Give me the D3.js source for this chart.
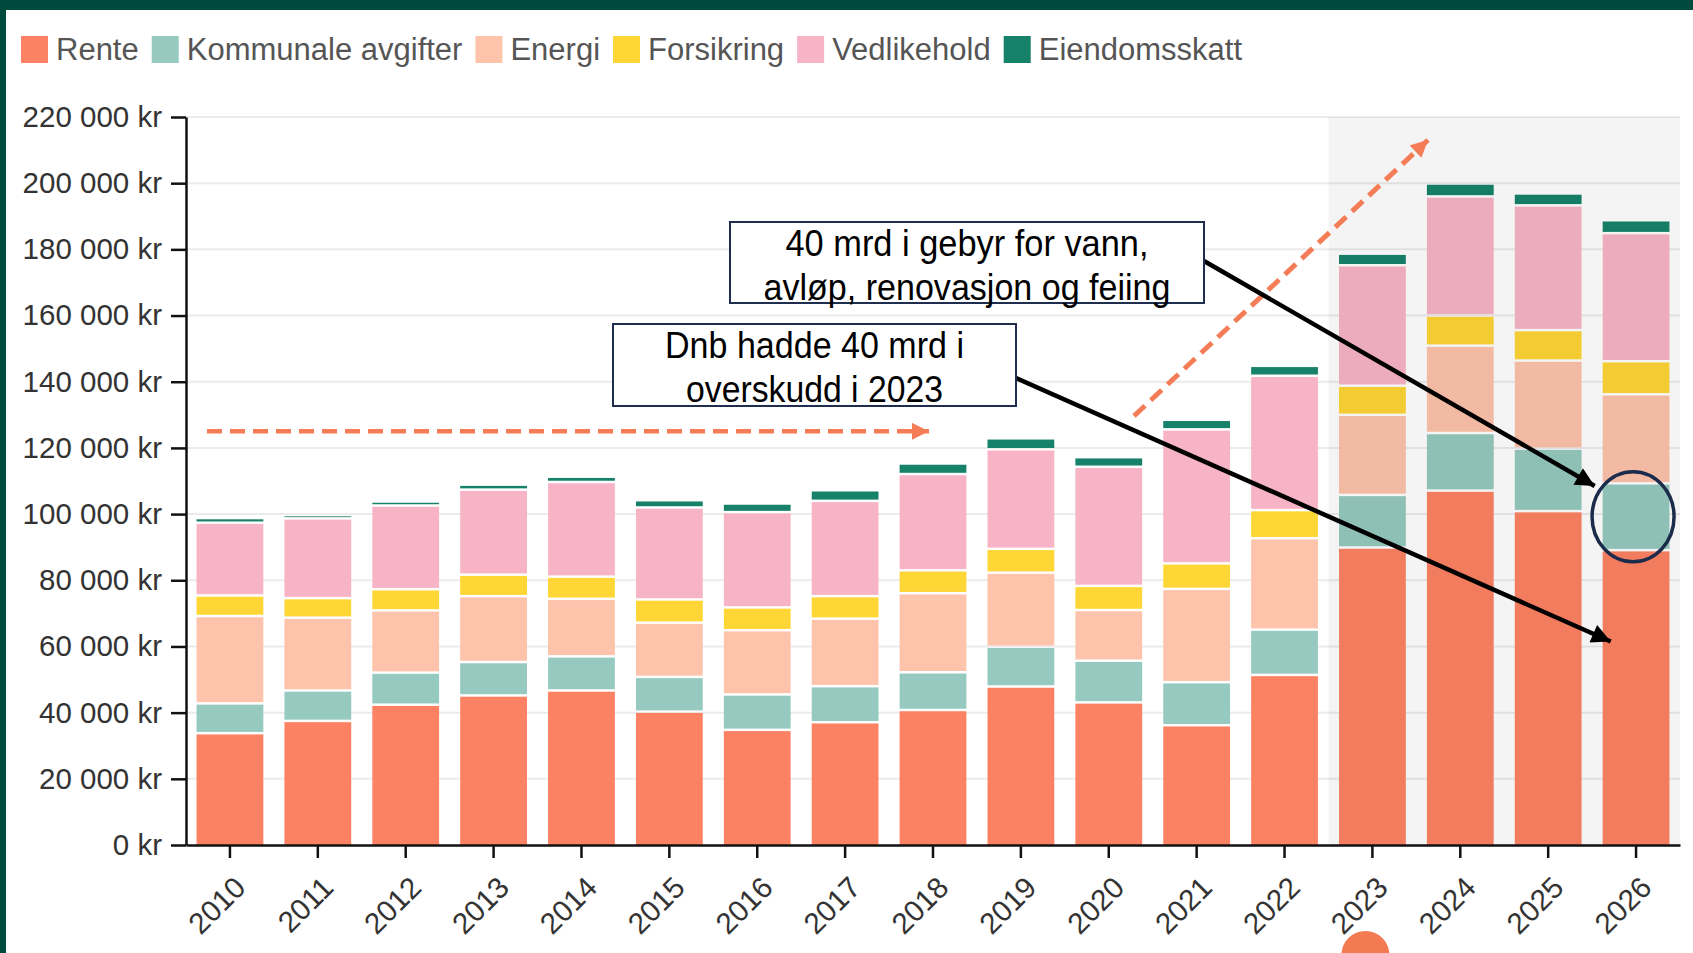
<!DOCTYPE html>
<html>
<head>
<meta charset="utf-8">
<script src="https://cdn.jsdelivr.net/npm/d3@7"></script>
<style>
  html, body { margin: 0; padding: 0; background: #fff; }
  svg { display: block; }
</style>
</head>
<body>
<div id="chart"></div>
<script>
// data (kr per year)
var years = ["2010","2011","2012","2013","2014","2015","2016","2017","2018",
             "2019","2020","2021","2022","2023","2024","2025","2026"];
var rente =         [33800, 37500, 42400, 45200, 46700, 40300, 34800, 37100, 40800, 47900, 43100, 36200, 51400, 89900, 107100, 100900, 89100];
var kommunale =     [9000, 9200, 9700, 10100, 10300, 10500, 10700, 10900, 11400, 12000, 12600, 13000, 13700, 15900, 17400, 18900, 20200];
var energi =        [26400, 22000, 18800, 19900, 17400, 16400, 19400, 20400, 23900, 22400, 15300, 28200, 27600, 24200, 26400, 26600, 26900];
var forsikring =    [6200, 5900, 6400, 6500, 6700, 7000, 6900, 6800, 6900, 7200, 7300, 7700, 8500, 8800, 9100, 9200, 10000];
var vedlikehold =   [22000, 24100, 25300, 25700, 28600, 27800, 28800, 28800, 29100, 30100, 36000, 40500, 40600, 36400, 36000, 37700, 38700];
var eiendomsskatt = [1400, 1000, 1200, 1500, 1600, 2200, 2600, 3200, 3200, 3300, 2900, 2900, 3000, 3500, 3900, 3600, 3900];
var forecastYears = ["2023","2024","2025","2026"];
var yTicks = [0, 20000, 40000, 60000, 80000, 100000, 120000, 140000, 160000, 180000, 200000, 220000];

var keys = ["Rente", "Kommunale avgifter", "Energi", "Forsikring", "Vedlikehold", "Eiendomsskatt"];
var colors = ["#fd8263", "#96c9bf", "#fdc3ab", "#fed636", "#f8b4c7", "#16826a"];
var series = [rente, kommunale, energi, forsikring, vedlikehold, eiendomsskatt];

var W = 1693, H = 953;
var mLeft = 186, mRight = 1680, mTop = 117, mBottom = 845;

var svg = d3.select("#chart").append("svg")
  .attr("width", W).attr("height", H);

// frame
svg.append("rect").attr("x", 0).attr("y", 0).attr("width", W).attr("height", 10).attr("fill", "#004a3d");
svg.append("rect").attr("x", 0).attr("y", 0).attr("width", 6).attr("height", H).attr("fill", "#004a3d");

var rows = years.map(function(yr, i) {
  var r = { year: yr };
  keys.forEach(function(k, j) { r[k] = series[j][i]; });
  return r;
});
var stacked = d3.stack().keys(keys)(rows);

var x = d3.scaleBand().domain(years).range([mLeft, mRight]).paddingInner(0.24).paddingOuter(0.12);
var y = d3.scaleLinear().domain([0, 220000]).range([mBottom, mTop]);
var color = d3.scaleOrdinal().domain(keys).range(colors);

var fx0 = x(forecastYears[0]) - x.step() * x.paddingInner() / 2;

// grid
svg.append("g").selectAll("line").data(yTicks.slice(1)).enter().append("line")
  .attr("x1", mLeft).attr("x2", mRight)
  .attr("y1", function(d) { return y(d); }).attr("y2", function(d) { return y(d); })
  .attr("stroke", "#ebebeb").attr("stroke-width", 2);

// bars
var gap = 2.5;
svg.append("g").selectAll("g").data(stacked).enter().append("g")
  .attr("fill", function(d) { return color(d.key); })
  .selectAll("rect").data(function(d) { return d; }).enter().append("rect")
  .attr("x", function(d) { return x(d.data.year); })
  .attr("width", x.bandwidth())
  .attr("y", function(d) { return y(d[1]) + gap / 2; })
  .attr("height", function(d) {
    var b = d[0] === 0 ? y(0) : y(d[0]) - gap / 2;
    return Math.max(0, b - (y(d[1]) + gap / 2));
  });

// forecast shading over bars
svg.append("rect")
  .attr("x", fx0).attr("y", y(220000))
  .attr("width", mRight - fx0).attr("height", y(0) - y(220000))
  .attr("fill", "#000").attr("opacity", 0.045);

// axes
var fmt = function(d) { return d3.format(",")(d).replace(/,/g, " ") + " kr"; };
var yAxis = svg.append("g").attr("transform", "translate(" + mLeft + ",0)")
  .call(d3.axisLeft(y).tickValues(yTicks).tickFormat(fmt).tickSize(15).tickSizeOuter(0).tickPadding(9));
var xAxis = svg.append("g").attr("transform", "translate(0," + mBottom + ")")
  .call(d3.axisBottom(x).tickSize(13).tickSizeOuter(0));

[yAxis, xAxis].forEach(function(a) {
  a.select(".domain").attr("stroke", "#111").attr("stroke-width", 2.5);
  a.selectAll(".tick line").attr("stroke", "#111").attr("stroke-width", 2.5);
  a.selectAll("text").attr("font-family", "Liberation Sans, Arial, sans-serif")
    .attr("font-size", 29.5).attr("fill", "#333");
});
xAxis.selectAll(".tick text")
  .attr("y", null).attr("dy", "0.35em")
  .attr("text-anchor", "end")
  .attr("transform", "translate(10,37) rotate(-45)");

// legend
var legend = svg.append("g").attr("transform", "translate(21,0)");
var lx = 0;
keys.forEach(function(k) {
  legend.append("rect").attr("x", lx).attr("y", 36).attr("width", 27).attr("height", 27)
    .attr("fill", color(k));
  var t = legend.append("text").attr("x", lx + 35).attr("y", 60)
    .attr("font-family", "Liberation Sans, Arial, sans-serif").attr("font-size", 31)
    .attr("fill", "#555").text(k);
  lx += 35 + t.node().getComputedTextLength() + 13;
});

// annotations
var defs = svg.append("defs");
defs.append("marker").attr("id", "headBlack")
  .attr("viewBox", "0 0 10 10").attr("refX", 10).attr("refY", 5)
  .attr("markerUnits", "userSpaceOnUse").attr("markerWidth", 26).attr("markerHeight", 19)
  .attr("orient", "auto")
  .append("path").attr("d", "M0,0 L10,5 L0,10 z").attr("fill", "#000");
defs.append("marker").attr("id", "headOrange")
  .attr("viewBox", "0 0 10 10").attr("refX", 10).attr("refY", 5)
  .attr("markerUnits", "userSpaceOnUse").attr("markerWidth", 18).attr("markerHeight", 17)
  .attr("orient", "auto")
  .append("path").attr("d", "M0,0 L10,5 L0,10 z").attr("fill", "#f47d57");

var orange = "#f47d57";
svg.append("line")
  .attr("x1", 207).attr("y1", y(125000)).attr("x2", x("2018") + x.bandwidth() / 2 - 4).attr("y2", y(125000))
  .attr("stroke", orange).attr("stroke-width", 4.5).attr("stroke-dasharray", "15,8")
  .attr("marker-end", "url(#headOrange)");
svg.append("line")
  .attr("x1", 1134).attr("y1", 416).attr("x2", 1428).attr("y2", 140)
  .attr("stroke", orange).attr("stroke-width", 5).attr("stroke-dasharray", "15,8")
  .attr("marker-end", "url(#headOrange)");

var last = years.length - 1;
var cx26 = x("2026") + x.bandwidth() / 2;

svg.append("line")
  .attr("x1", 1204).attr("y1", 261).attr("x2", x("2026") - 8).attr("y2", y(108500))
  .attr("stroke", "#000").attr("stroke-width", 4.5).attr("marker-end", "url(#headBlack)");
svg.append("line")
  .attr("x1", 1016).attr("y1", 378).attr("x2", x("2026") + 8).attr("y2", y(61500))
  .attr("stroke", "#000").attr("stroke-width", 4.5).attr("marker-end", "url(#headBlack)");

svg.append("ellipse")
  .attr("cx", cx26 - 3).attr("cy", y(rente[last] + kommunale[last] / 2))
  .attr("rx", 41).attr("ry", 45)
  .attr("fill", "none").attr("stroke", "#1b2b4b").attr("stroke-width", 3.5);

var boxes = [
  { x: 730, y: 222, w: 474, h: 81, lines: ["40 mrd i gebyr for vann,", "avløp, renovasjon og feiing"], widths: [363, 407] },
  { x: 613, y: 324, w: 403, h: 82, lines: ["Dnb hadde 40 mrd i", "overskudd i 2023"], widths: [299, 257] }
];
boxes.forEach(function(b) {
  svg.append("rect").attr("x", b.x).attr("y", b.y).attr("width", b.w).attr("height", b.h)
    .attr("fill", "#fff").attr("stroke", "#1f2d4e").attr("stroke-width", 2);
  b.lines.forEach(function(l, i) {
    svg.append("text").attr("x", b.x + b.w / 2).attr("y", b.y + 34 + i * 44)
      .attr("text-anchor", "middle")
      .attr("font-family", "Liberation Sans Narrow, Liberation Sans, sans-serif")
      .attr("font-size", 37).attr("fill", "#000")
      .attr("textLength", b.widths[i]).attr("lengthAdjust", "spacingAndGlyphs")
      .text(l);
  });
});

// stray dot at the bottom
svg.append("circle").attr("cx", x("2023") + x.bandwidth() / 2 - 7).attr("cy", 955).attr("r", 24)
  .attr("fill", "#f47a52");
</script>
</body>
</html>
